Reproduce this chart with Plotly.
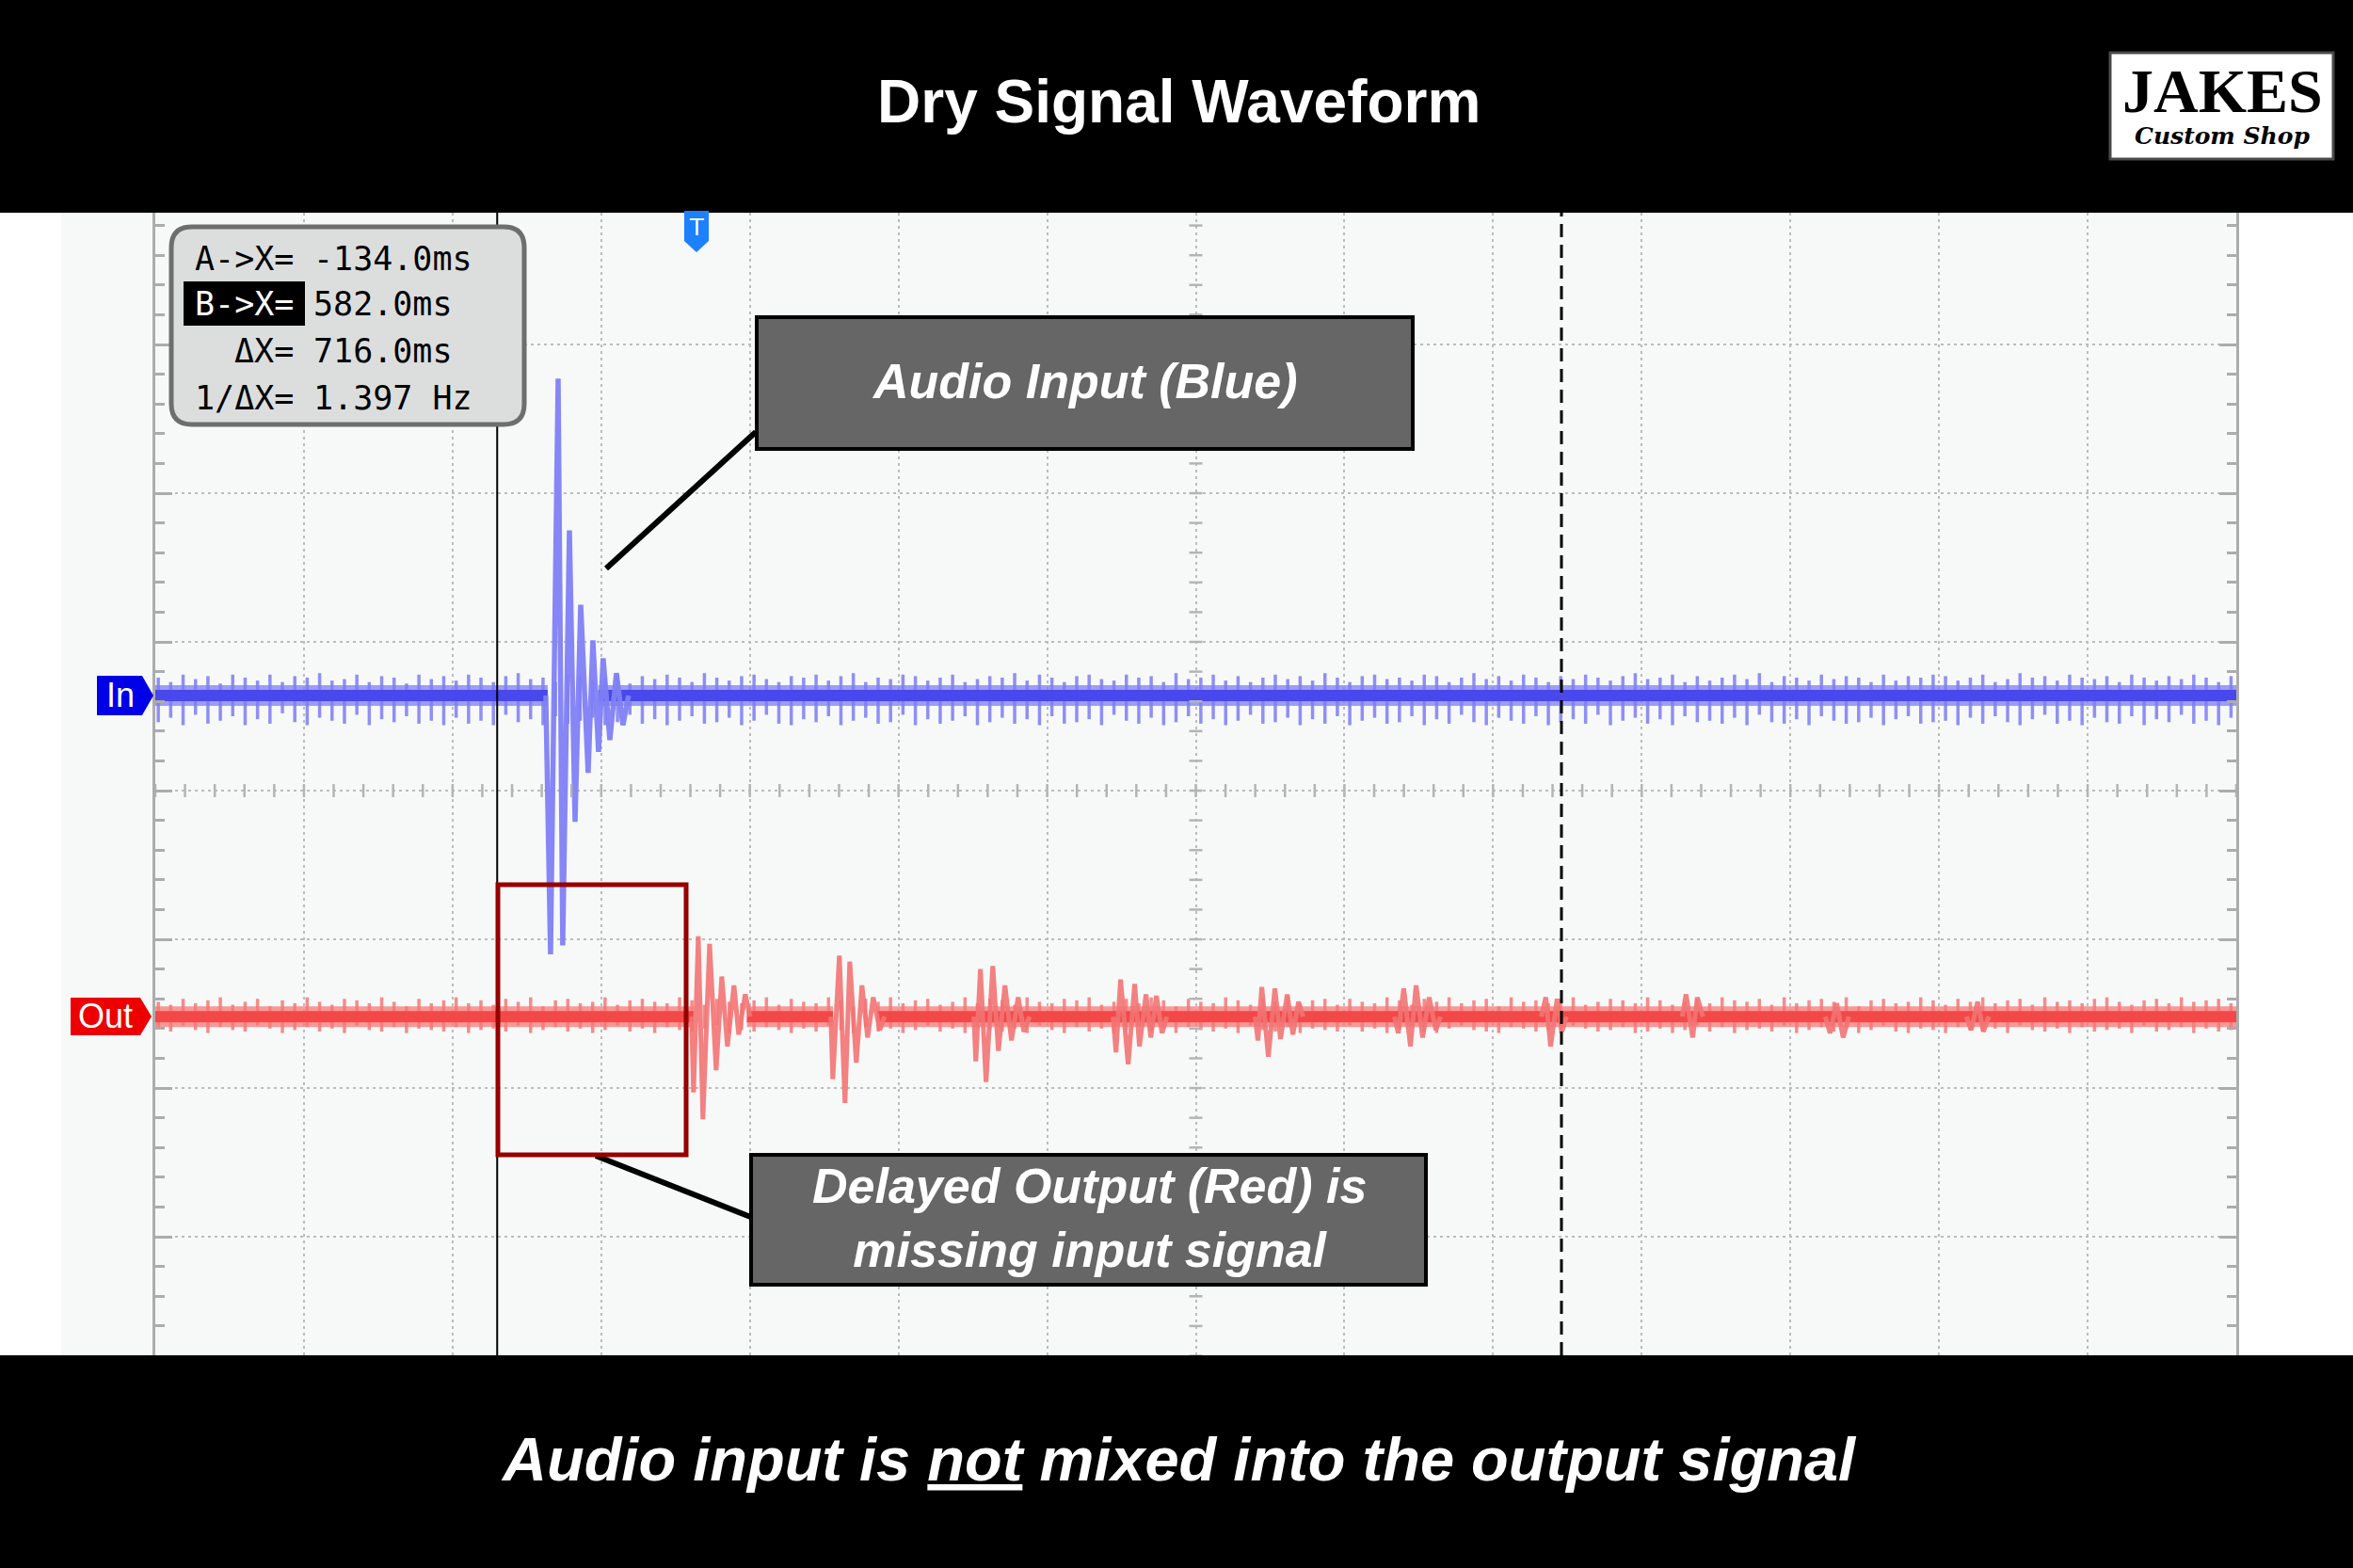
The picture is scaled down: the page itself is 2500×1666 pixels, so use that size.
import plotly.graph_objects as go

# ---------------- data (time in ms, amplitude in 1/100 division) ----------------
t_range = [-364, 1036]
v_range = [-379.7, 388.6]
in_offset = 64
out_offset = -152
cursor_a = -134.0
cursor_b = 582.0
trigger_t = 0.0

readout_labels = ["A->X=", "B->X=", "ΔX=", "1/ΔX="]
readout_values = ["-134.0ms", "582.0ms", "716.0ms", "1.397 Hz"]

blue_burst_t = [-101.3, -98.1, -93.0, -89.9, -85.4, -81.6, -77.8, -72.8, -69.6, -65.8, -62.7, -58.2, -53.8, -49.4, -45.6]
blue_burst_v = [0, -174, 213, -168, 111, -85, 61, -52, 37, -38, 25, -30, 15, -20, 0]

red_echo_t = [
    [-3.2, -1.9, 1.3, 4.4, 8.9, 13.3, 17.1, 20.9, 25.3, 28.5, 32.9, 36.1],
    [90.5, 91.8, 96.2, 100.0, 103.2, 107.6, 111.4, 115.2, 119.0, 123.4, 126.6],
    [186.7, 188.0, 191.1, 194.9, 199.4, 203.2, 207.6, 212.0, 216.5, 220.3, 224.1],
    [280.4, 282.3, 285.4, 290.5, 294.9, 298.1, 302.5, 305.7, 309.5, 313.3, 316.5],
    [375.9, 377.8, 380.4, 384.8, 389.2, 393.0, 397.5, 401.3, 405.1, 408.2],
    [469.6, 472.2, 475.9, 480.4, 484.2, 488.6, 493.0, 497.5, 500.6],
    [568.4, 571.5, 574.7, 579.1, 582.3, 585.4],
    [663.3, 665.8, 670.3, 673.4, 677.2],
    [759.5, 762.7, 767.1, 771.5, 775.3],
    [854.4, 857.6, 862.0, 865.8, 869.6],
]
red_echo_v = [
    [0, -51, 54, -69, 49, -36, 27, -20, 21, -12, 15, 0],
    [0, -42, 41, -58, 37, -31, 21, -14, 13, -9, 0],
    [0, -30, 32, -44, 34, -23, 21, -16, 13, -10, 0],
    [0, -24, 25, -32, 22, -20, 15, -14, 14, -11, 0],
    [0, -16, 20, -27, 19, -15, 15, -12, 10, 0],
    [0, -11, 19, -20, 21, -14, 13, -9, 0],
    [0, 13, -20, 12, -10, 0],
    [0, 15, -14, 13, 0],
    [0, -11, 9, -14, 0],
    [0, -9, 10, -10, 0],
]

blue_band = [[-364, -100], [-66, 1036]]
red_band = [[-364, -2], [34, 92], [122, 1036]]

noise_t0 = -362.0
noise_step = 8.35

blue_noise_up = [
    12, 9, 14, 11, 13, 8, 14, 12, 10, 14, 9, 13, 12, 15, 10, 11, 14, 9, 13, 12, 8, 14, 11, 13,
    10, 14, 12, 9, 13, 15, 11, 12, 9, 14, 13, 10, 12, 14, 8, 13, 11, 14, 12, 9, 15, 12, 10, 13,
    14, 11, 9, 13, 12, 14, 10, 13, 15, 9, 12, 11, 14, 13, 10, 12, 14, 9, 11, 13, 12, 15, 10, 14,
    12, 9, 13, 14, 11, 10, 14, 12, 13, 9, 15, 11, 12, 14, 10, 13, 9, 12, 14, 11, 13, 10, 15, 12,
    9, 13, 14, 11, 12, 10, 14, 13, 9, 12, 15, 11, 13, 10, 14, 12, 9, 13, 11, 14, 12, 10, 13, 15,
    11, 12, 14, 9, 13, 10, 12, 14, 11, 15, 9, 13, 12, 10, 14, 11, 13, 12, 9, 14, 10, 13, 12, 14,
    13, 10, 12, 14, 9, 11, 15, 12, 13, 10, 14, 12, 11, 13, 9, 14, 12, 10, 13, 11, 14, 12, 9, 13,
]
blue_noise_dn = [
    18, 15, 20, 13, 19, 17, 14, 20, 16, 19, 12, 18, 20, 15, 17, 19, 13, 20, 16, 18, 14, 19, 17, 20,
    15, 19, 17, 20, 13, 18, 16, 20, 14, 19, 17, 15, 20, 18, 13, 19, 16, 20, 17, 14, 19, 18, 15, 20,
    17, 13, 19, 20, 16, 18, 14, 20, 17, 15, 19, 18, 13, 20, 16, 19, 17, 14, 20, 18, 15, 19, 16, 20,
    14, 19, 18, 16, 20, 13, 17, 19, 15, 20, 18, 14, 19, 16, 20, 17, 13, 19, 18, 15, 20, 16, 19, 14,
    20, 17, 15, 19, 18, 14, 20, 16, 19, 13, 18, 20, 15, 17, 19, 14, 20, 18, 16, 19, 13, 20, 17, 15,
    19, 16, 20, 14, 18, 17, 19, 15, 20, 13, 18, 19, 16, 20, 14, 17, 19, 18, 15, 20, 16, 14, 19, 18,
    17, 20, 15, 19, 14, 18, 20, 16, 13, 19, 17, 20, 15, 18, 19, 14, 20, 16, 18, 13, 19, 17, 20, 15,
]
red_noise_up = [
    10, 8, 12, 9, 11, 13, 8, 10, 12, 7, 11, 9, 13, 10, 8, 12, 11, 9, 13, 10, 7, 12, 9, 11,
    13, 9, 11, 8, 12, 10, 13, 7, 11, 12, 9, 10, 13, 8, 11, 12, 10, 9, 13, 11, 8, 12, 10, 9,
    11, 13, 8, 12, 10, 9, 13, 11, 7, 12, 10, 13, 9, 11, 12, 8, 10, 13, 9, 12, 11, 8, 13, 10,
    9, 12, 11, 13, 8, 10, 12, 9, 13, 11, 7, 12, 10, 9, 13, 11, 8, 12, 10, 13, 9, 11, 12, 8,
    12, 10, 9, 13, 11, 8, 12, 10, 13, 9, 11, 12, 7, 13, 10, 11, 9, 12, 13, 8, 10, 12, 11, 9,
    13, 11, 8, 10, 12, 9, 13, 11, 10, 12, 8, 13, 9, 11, 12, 10, 13, 7, 11, 12, 9, 10, 13, 11,
    8, 12, 10, 13, 9, 11, 12, 8, 13, 10, 11, 9, 12, 13, 10, 8, 11, 12, 9, 13, 10, 11, 12, 9,
]
red_noise_dn = [
    8, 10, 6, 9, 11, 7, 9, 10, 6, 8, 11, 9, 7, 10, 8, 11, 6, 9, 10, 7, 11, 8, 9, 10,
    7, 11, 9, 8, 10, 6, 11, 9, 7, 10, 8, 11, 9, 6, 10, 8, 11, 7, 9, 10, 8, 6, 11, 9,
    10, 7, 9, 11, 8, 10, 6, 9, 11, 7, 10, 8, 11, 9, 6, 10, 8, 11, 7, 9, 10, 8, 11, 6,
    9, 11, 7, 10, 8, 11, 9, 6, 10, 8, 11, 7, 9, 10, 8, 11, 6, 9, 10, 7, 11, 8, 9, 10,
    6, 10, 8, 11, 9, 7, 10, 11, 8, 6, 9, 10, 11, 7, 8, 10, 9, 11, 6, 8, 10, 9, 7, 11,
    10, 8, 11, 9, 6, 10, 7, 11, 9, 8, 10, 6, 11, 9, 7, 10, 8, 11, 9, 6, 10, 11, 8, 9,
    11, 7, 9, 10, 8, 11, 6, 9, 10, 8, 11, 7, 10, 9, 8, 11, 6, 10, 9, 7, 11, 8, 10, 9,
]

# ---------------- layout geometry (pixels) ----------------
W, H = 2500, 1666
PL, PR, PT, PB = 165, 2376, 226, 1440


def px(x):
    return (x - PL) / (PR - PL)


def py(y):
    return (PB - y) / (PB - PT)


def rect(x0, y0, x1, y1, **kw):
    return dict(type="rect", xref="paper", yref="paper",
                x0=px(x0), x1=px(x1), y0=py(y1), y1=py(y0), **kw)


def poly(points, **kw):
    d = "M " + " L ".join(f"{px(x):.5f},{py(y):.5f}" for x, y in points) + " Z"
    return dict(type="path", xref="paper", yref="paper", path=d, **kw)


def rounded(x0, y0, x1, y1, r, **kw):
    P = lambda x, y: f"{px(x):.5f},{py(y):.5f}"
    d = (f"M {P(x0 + r, y0)} L {P(x1 - r, y0)} Q {P(x1, y0)} {P(x1, y0 + r)} "
         f"L {P(x1, y1 - r)} Q {P(x1, y1)} {P(x1 - r, y1)} "
         f"L {P(x0 + r, y1)} Q {P(x0, y1)} {P(x0, y1 - r)} "
         f"L {P(x0, y0 + r)} Q {P(x0, y0)} {P(x0 + r, y0)} Z")
    return dict(type="path", xref="paper", yref="paper", path=d, **kw)


def line(x0, y0, x1, y1, **kw):
    return dict(type="line", xref="paper", yref="paper",
                x0=px(x0), x1=px(x1), y0=py(y0), y1=py(y1), **kw)


def note(x, y, text, size, color="white", family="Liberation Sans, Arial", xanchor="center"):
    return dict(x=px(x), y=py(y), xref="paper", yref="paper", text=text, showarrow=False,
                xanchor=xanchor, yanchor="middle", font=dict(size=size, color=color, family=family))


# ---------------- traces ----------------
fig = go.Figure()


def add_band(segments, offset, outer, core):
    for seg in segments:
        fig.add_trace(go.Scatter(x=seg, y=[offset, offset], mode="lines",
                                 line=dict(color=outer, width=22), hoverinfo="skip", showlegend=False))
        fig.add_trace(go.Scatter(x=seg, y=[offset, offset], mode="lines",
                                 line=dict(color=core, width=12), hoverinfo="skip", showlegend=False))


def add_noise(ups, dns, offset, color):
    xs, ys = [], []
    for i, (u, d) in enumerate(zip(ups, dns)):
        t = noise_t0 + noise_step * i
        xs += [t, t, None]
        ys += [offset - d, offset + u, None]
    fig.add_trace(go.Scatter(x=xs, y=ys, mode="lines", line=dict(color=color, width=3.5),
                             hoverinfo="skip", showlegend=False))


# blue (input)
add_noise(blue_noise_up, blue_noise_dn, in_offset, "rgba(125,125,242,0.85)")
add_band(blue_band, in_offset, "rgba(125,125,242,0.75)", "rgb(72,72,236)")
fig.add_trace(go.Scatter(x=blue_burst_t, y=[in_offset + v for v in blue_burst_v], mode="lines",
                         line=dict(color="rgba(128,128,245,0.95)", width=5.5),
                         hoverinfo="skip", showlegend=False))

# red (output)
add_noise(red_noise_up, red_noise_dn, out_offset, "rgba(245,120,120,0.85)")
add_band(red_band, out_offset, "rgba(245,120,120,0.75)", "rgb(243,72,72)")
for et, ev in zip(red_echo_t, red_echo_v):
    fig.add_trace(go.Scatter(x=et, y=[out_offset + v for v in ev], mode="lines",
                             line=dict(color="rgba(243,115,115,0.9)", width=5),
                             hoverinfo="skip", showlegend=False))

# center-axis minor ticks
hx = [t_range[0] + 20 * k for k in range(71)]
fig.add_trace(go.Scatter(x=hx, y=[0] * len(hx), mode="markers",
                         marker=dict(symbol="line-ns", size=10, line=dict(color="rgb(180,180,180)", width=2.5)),
                         hoverinfo="skip", showlegend=False))
center_t = t_range[0] + 700
vy = [-380 + 20 * k for k in range(39)]
fig.add_trace(go.Scatter(x=[center_t] * len(vy), y=vy, mode="markers",
                         marker=dict(symbol="line-ew", size=10, line=dict(color="rgb(180,180,180)", width=2.5)),
                         hoverinfo="skip", showlegend=False))

# ---------------- shapes ----------------
shapes = []
shapes.append(rect(65, PT, PL, PB, fillcolor="#f6f9f8", line=dict(width=0), layer="below"))
# cursors
shapes.append(dict(type="line", xref="x", yref="paper", x0=cursor_a, x1=cursor_a, y0=0, y1=1,
                   line=dict(color="black", width=2), layer="above"))
shapes.append(dict(type="line", xref="x", yref="paper", x0=cursor_b, x1=cursor_b, y0=0, y1=1,
                   line=dict(color="black", width=3, dash="14px,8px"), layer="above"))
# black bands
shapes.append(rect(0, 0, W, PT, fillcolor="black", line=dict(width=0), layer="above"))
shapes.append(rect(0, PB, W, H, fillcolor="black", line=dict(width=0), layer="above"))
# logo
shapes.append(rect(2242, 56, 2479, 169, fillcolor="white", line=dict(color="#4a4a4a", width=3), layer="above"))
# trigger marker
shapes.append(poly([(727, 224), (753, 224), (753, 256), (740, 268), (727, 256)],
                   fillcolor="rgb(28,128,255)", line=dict(width=0), layer="above"))
# channel tags
shapes.append(poly([(103, 718), (151, 718), (163, 739), (151, 760), (103, 760)],
                   fillcolor="rgb(0,0,232)", line=dict(width=0), layer="above"))
shapes.append(poly([(75, 1060), (149, 1060), (161, 1080), (149, 1100), (75, 1100)],
                   fillcolor="rgb(236,0,0)", line=dict(width=0), layer="above"))
# readout box
shapes.append(rounded(182, 241, 557, 451, 22, fillcolor="#dcdedd", line=dict(color="#6e6e6e", width=5), layer="above"))
shapes.append(rect(195, 299, 324, 346, fillcolor="black", line=dict(width=0), layer="above"))
# callouts
shapes.append(line(803, 459, 644, 604, line=dict(color="black", width=6), layer="above"))
shapes.append(line(633, 1228, 800, 1294, line=dict(color="black", width=6), layer="above"))
shapes.append(rect(804, 337, 1501, 477, fillcolor="#666666", line=dict(color="black", width=4), layer="above"))
shapes.append(rect(798, 1227, 1515, 1365, fillcolor="#666666", line=dict(color="black", width=4), layer="above"))
shapes.append(rect(529, 940, 729, 1227, fillcolor="rgba(0,0,0,0)", line=dict(color="rgb(150,0,0)", width=5), layer="above"))

# ---------------- annotations ----------------
ann = []
ann.append(note(1252, 108, "<b>Dry Signal Waveform</b>", 64))
ann.append(note(1252, 1550, "<b><i>Audio input is <u>not</u> mixed into the output signal</i></b>", 65))
ann.append(note(2361, 96, "<b>JAKES</b>", 66, color="black", family="Liberation Serif, Times New Roman"))
ann.append(note(2361, 144, "<b><i>Custom Shop</i></b>", 25, color="black", family="DejaVu Serif"))
ann.append(note(740, 242, "T", 24, family="DejaVu Sans"))
ann.append(note(128, 738, "In", 36))
ann.append(note(112, 1079, "Out", 36))
ann.append(note(1152, 405, "<b><i>Audio Input (Blue)</i></b>", 52))
ann.append(note(1157, 1294, "<b><i>Delayed Output (Red) is<br>missing input signal</i></b>", 52))
rows_y = [275, 323, 373, 423]
for i, (lab, val) in enumerate(zip(readout_labels, readout_values)):
    ann.append(note(314, rows_y[i], lab, 35, color="white" if i == 1 else "black",
                    family="DejaVu Sans Mono", xanchor="right"))
    ann.append(note(331, rows_y[i], val, 35, color="black", family="DejaVu Sans Mono", xanchor="left"))

grid_col = "rgb(188,188,188)"
fig.update_layout(
    width=W, height=H, autosize=False,
    margin=dict(l=PL, r=W - PR, t=PT, b=H - PB, pad=0),
    paper_bgcolor="white", plot_bgcolor="#f6f9f8",
    shapes=shapes, annotations=ann, showlegend=False,
    xaxis=dict(range=t_range, tick0=t_range[0], dtick=100, showgrid=True, gridcolor=grid_col,
               gridwidth=2, griddash="3px,4px", zeroline=False, showline=False, ticks="",
               showticklabels=False, fixedrange=True),
    yaxis=dict(range=v_range, tick0=0, dtick=100, showgrid=True, gridcolor=grid_col,
               gridwidth=2, griddash="3px,4px", zeroline=False, showline=True, linecolor="rgb(172,172,172)",
               linewidth=3, mirror="ticks", ticks="inside", ticklen=18, tickwidth=2.5,
               tickcolor="rgb(172,172,172)", showticklabels=False, fixedrange=True,
               minor=dict(dtick=20, tick0=0, ticks="inside", ticklen=10, tickwidth=2.5,
                          tickcolor="rgb(172,172,172)", showgrid=False)),
)

fig.write_html("out.html", config={"displayModeBar": False},
               post_script="document.body.style.margin='0';document.body.style.padding='0';")
